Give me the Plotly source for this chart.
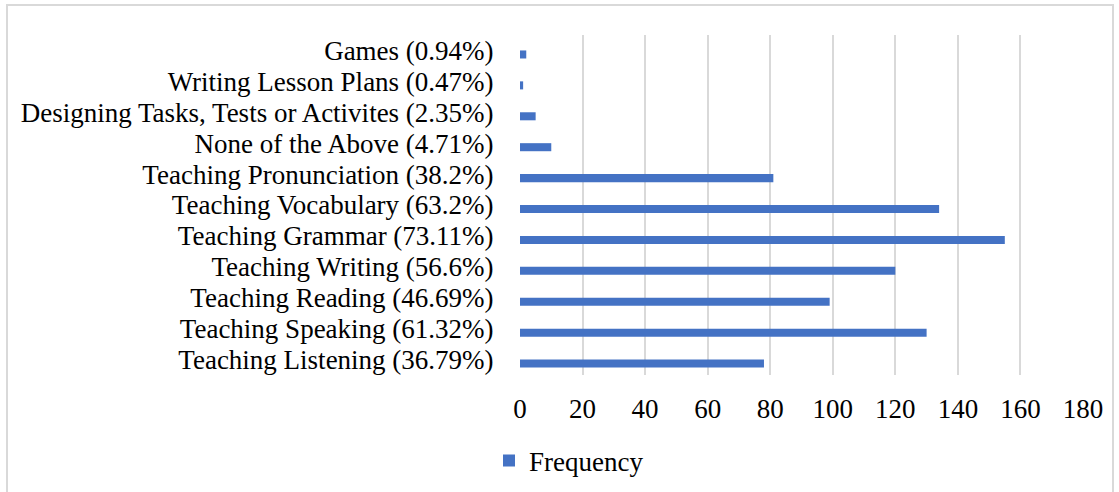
import plotly.graph_objects as go

categories = [
    "Teaching Listening (36.79%)",
    "Teaching Speaking (61.32%)",
    "Teaching Reading (46.69%)",
    "Teaching Writing (56.6%)",
    "Teaching Grammar (73.11%)",
    "Teaching Vocabulary (63.2%)",
    "Teaching Pronunciation (38.2%)",
    "None of the Above (4.71%)",
    "Designing Tasks, Tests or Activites (2.35%)",
    "Writing Lesson Plans (0.47%)",
    "Games (0.94%)",
]
frequency = [78, 130, 99, 120, 155, 134, 81, 10, 5, 1, 2]
x_ticks = [0, 20, 40, 60, 80, 100, 120, 140, 160, 180]

W, H = 1119, 492
L, R, T, B = 520, 1083, 35, 375
pw, ph = R - L, B - T

def px(x):
    return (x - L) / pw

def py(y):
    return (B - y) / ph

fig = go.Figure()
fig.add_trace(go.Bar(
    y=categories, x=frequency, orientation="h", name="Frequency",
    width=0.26, offset=-0.26,
    marker=dict(color="#4472C4", line=dict(width=0)),
))

font = dict(family="Liberation Serif, Times New Roman, serif", size=27, color="#000000")

border_path = "M {a},{b} L {a},{c} L {d},{c} L {d},{b}".format(
    a=px(7), b=py(530), c=py(5), d=px(1113))

fig.update_layout(
    width=W, height=H,
    margin=dict(l=L, r=W - R, t=T, b=H - B, pad=0, autoexpand=False),
    paper_bgcolor="white", plot_bgcolor="white",
    font=font,
    showlegend=True,
    legend=dict(orientation="h", x=px(489), y=py(461), xanchor="left", yanchor="middle",
                font=font, bgcolor="rgba(0,0,0,0)"),
    xaxis=dict(range=[0, 180], tickmode="array", tickvals=x_ticks, showgrid=True,
               gridcolor="#d9d9d9", gridwidth=2, zeroline=False, showline=False,
               ticks="outside", ticklen=10, tickcolor="rgba(0,0,0,0)", tickfont=font,
               automargin=False),
    yaxis=dict(showgrid=False, zeroline=False, showline=False, ticks="outside",
               ticklen=20, tickcolor="rgba(0,0,0,0)", tickfont=font,
               categoryorder="array", categoryarray=categories,
               tickmode="array", tickvals=categories, ticktext=categories,
               range=[-0.5, 10.5], automargin=False),
    shapes=[dict(type="path", xref="paper", yref="paper", path=border_path,
                 line=dict(color="#d9d9d9", width=2), layer="below")],
)

fig.write_html("out.html")
